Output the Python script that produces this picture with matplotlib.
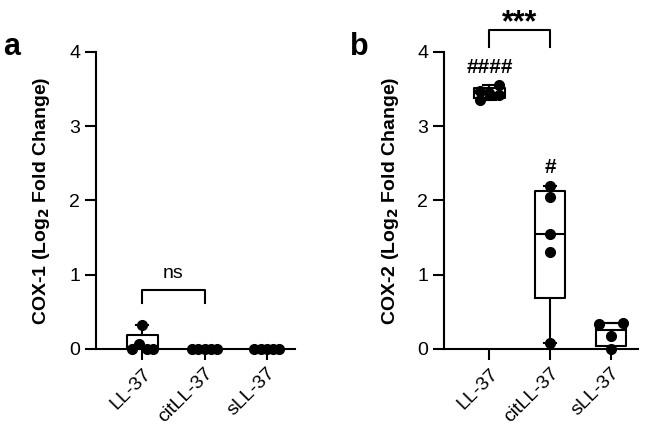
import numpy as np
import matplotlib.pyplot as plt

plt.rcParams['font.family'] = ['Liberation Sans', 'DejaVu Sans']

groups = ["LL-37", "citLL-37", "sLL-37"]

# COX-1 values (panel a)
cox1_ll37 = [0.32, 0.07, 0.0, 0.0, 0.0]
cox1_cit = [0.0, 0.0, 0.0, 0.0, 0.0]
cox1_s = [0.0, 0.0, 0.0, 0.0, 0.0]

# COX-2 values (panel b)
cox2_ll37 = [3.56, 3.48, 3.45, 3.42, 3.35]
cox2_cit = [2.2, 2.05, 1.55, 1.3, 0.08]
cox2_s = [0.35, 0.33, 0.17, 0.0]

# horizontal jitter of the dots, per group
off_a = [[0.0, -0.05, -0.17, 0.08, 0.17],
         [-0.2, -0.1, 0.0, 0.1, 0.2],
         [-0.2, -0.1, 0.0, 0.1, 0.2]]
off_b = [[0.15, -0.15, 0.0, 0.15, -0.15],
         [0.0, 0.0, 0.0, 0.0, 0.0],
         [0.2, -0.2, 0.0, 0.0]]


def stats(vals, label):
    v = np.array(vals)
    q1, med, q3 = np.percentile(v, [25, 50, 75], method="weibull")
    return dict(label=label, med=med, q1=q1, q3=q3,
                whislo=v.min(), whishi=v.max(), fliers=[])


def panel(ax, data, offsets, ylabel, left):
    st = [stats(d, g) for d, g in zip(data, groups)]
    ax.bxp(st, positions=range(3), widths=0.5, showfliers=False,
           boxprops=dict(lw=1.5, color="black"),
           medianprops=dict(lw=1.5, color="black"),
           whiskerprops=dict(lw=1.5, color="black"),
           capprops=dict(lw=1.5, color="black"), capwidths=0.2)
    for i, (d, o) in enumerate(zip(data, offsets)):
        ax.plot(np.array(o) + i, d, "o", color="black", ms=7,
                clip_on=False, zorder=5)
    ax.set_xlim(left, 2.45)
    ax.set_ylim(0, 4)
    ax.set_yticks([0, 1, 2, 3, 4])
    ax.set_xticks(range(3))
    ax.set_xticklabels(groups, rotation=45, ha="right",
                       rotation_mode="anchor", fontsize=14)
    ax.tick_params(axis="y", labelsize=14, width=1.5, length=8)
    ax.tick_params(axis="x", width=1.5, length=8)
    for s in ["top", "right"]:
        ax.spines[s].set_visible(False)
    for s in ["left", "bottom"]:
        ax.spines[s].set_linewidth(1.5)
    ax.set_ylabel(ylabel, fontsize=14, fontweight="bold")
    ax.yaxis.set_label_coords(-0.22, 0.5)


fig = plt.figure(figsize=(6.46, 4.30), dpi=100)
ax1 = fig.add_axes([0.1486, 0.1884, 0.3081, 0.6907])
ax2 = fig.add_axes([0.6873, 0.1884, 0.3003, 0.6907])

panel(ax1, [cox1_ll37, cox1_cit, cox1_s], off_a,
      r"COX-1 (Log$_\mathbf{2}$ Fold Change)", -0.74)
panel(ax2, [cox2_ll37, cox2_cit, cox2_s], off_b,
      r"COX-2 (Log$_\mathbf{2}$ Fold Change)", -0.75)

# significance brackets
ax1.plot([0, 0, 1, 1], [0.62, 0.79, 0.79, 0.62], color="black", lw=1.5)
ax1.text(0.5, 0.96, "ns", ha="center", va="baseline", fontsize=14)

ax2.plot([0, 0, 1, 1], [4.07, 4.3, 4.3, 4.07], color="black", lw=1.5,
         clip_on=False)
ax2.text(0.5, 4.28, "***", ha="center", va="baseline", fontsize=22,
         fontweight="bold")
ax2.text(0, 3.72, "####", ha="center", va="baseline", fontsize=15,
         fontweight="bold")
ax2.text(1, 2.37, "#", ha="center", va="baseline", fontsize=15,
         fontweight="bold")

fig.text(0.005, 0.872, "a", fontsize=22, fontweight="bold", va="baseline")
fig.text(0.542, 0.872, "b", fontsize=22, fontweight="bold", va="baseline")

fig.savefig("out.png", dpi=100)
